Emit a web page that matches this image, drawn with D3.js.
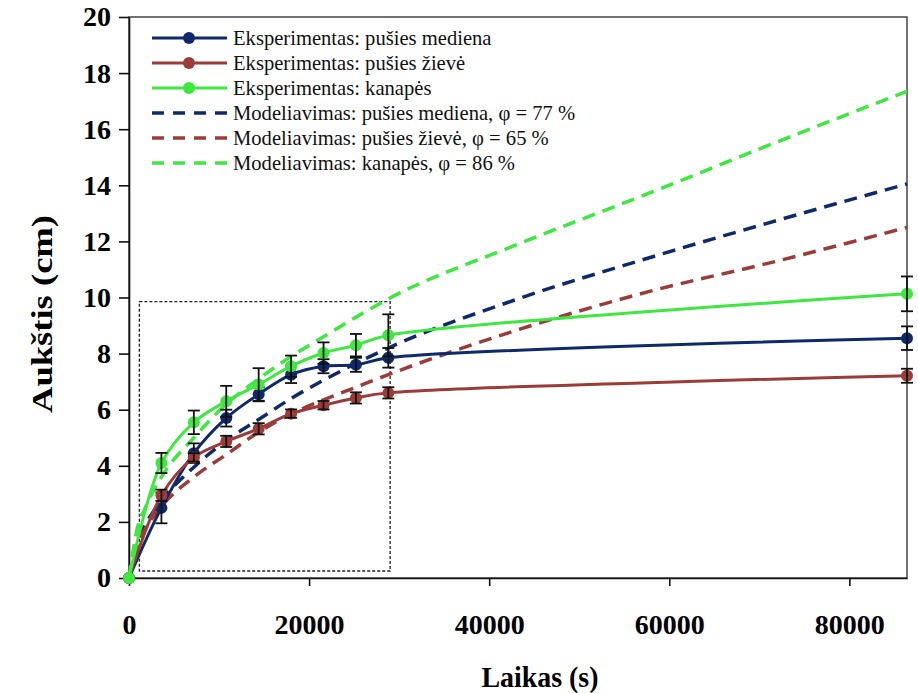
<!DOCTYPE HTML>
<html lang="lt">
  <head>
    <meta http-equiv="content-type" content="text/html; charset=utf-8"/>
    <title>Aukštis pagal laiką</title>
    <script type="text/javascript" src="https://d3js.org/d3.v7.min.js"></script>
    <style>
      body { margin: 0; background: #fff; }
      .tick text { font-family: "Liberation Serif", serif; font-weight: bold; font-size: 28px; fill: #000; }
      .legend text { font-family: "Liberation Serif", serif; font-size: 20.6px; fill: #111; }
      .title { font-family: "Liberation Serif", serif; font-weight: bold; font-size: 30px; fill: #000; }
    </style>
  </head>
  <body>
    <div id="chart"></div>
    <script>
      // ============================================= //
      // Data          //
      // ============================================= //
      var times = [0, 3600, 7200, 10800, 14400, 18000, 21600, 25200, 28800, 86400];

      var woodHeight = [0, 2.5, 4.45, 5.7, 6.55, 7.25, 7.55, 7.6, 7.85, 8.55];
      var woodErr    = [0, 0.55, 0.35, 0.3, 0.25, 0.3, 0.25, 0.25, 0.35, 0.42];
      var barkHeight = [0, 2.95, 4.3, 4.87, 5.32, 5.86, 6.16, 6.42, 6.6, 7.21];
      var barkErr    = [0, 0.2, 0.15, 0.2, 0.2, 0.15, 0.15, 0.2, 0.2, 0.25];
      var hempHeight = [0, 4.1, 5.55, 6.3, 6.9, 7.55, 8.02, 8.3, 8.65, 10.13];
      var hempErr    = [0, 0.36, 0.42, 0.55, 0.58, 0.38, 0.38, 0.4, 0.75, 0.62];

      var modelTimes = [0, 900, 1800, 3600, 7200, 10800, 14400, 18000, 21600, 25200, 28800, 43200, 57600, 72000, 86400];
      var woodModel  = [0, 1.3, 1.9, 2.75, 3.95, 4.9, 5.65, 6.4, 7.05, 7.65, 8.2, 9.95, 11.4, 12.75, 14.05];
      var barkModel  = [0, 1.2, 1.75, 2.55, 3.6, 4.4, 5.2, 5.85, 6.35, 6.8, 7.25, 8.85, 10.2, 11.3, 12.5];
      var hempModel  = [0, 1.75, 2.5, 3.6, 5.0, 6.2, 7.1, 7.9, 8.6, 9.3, 9.95, 11.9, 13.7, 15.55, 17.35];

      // zoomed region marked with the dotted box: [t0, t1], [h0, h1]
      var zoomBoxX = [1150, 29000];
      var zoomBoxY = [0.25, 9.85];

      var xTicks = [0, 20000, 40000, 60000, 80000];
      var yTicks = [0, 2, 4, 6, 8, 10, 12, 14, 16, 18, 20];

      var legendLabels = [
        "Eksperimentas: pušies mediena",
        "Eksperimentas: pušies žievė",
        "Eksperimentas: kanapės",
        "Modeliavimas: pušies mediena, φ = 77 %",
        "Modeliavimas: pušies žievė, φ = 65 %",
        "Modeliavimas: kanapės, φ = 86 %"
      ];

      var colors = { wood: "#0f2a6b", bark: "#9c3c39", hemp: "#3ee83e" };

      // ============================================= //
      // Setup                                         //
      // ============================================= //
      var margin = { top: 17, right: 11, bottom: 115, left: 129 },
        width = 918 - margin.left - margin.right,
        height = 693 - margin.top - margin.bottom;

      var x = d3.scaleLinear().domain([0, 86400]).range([0, width]);
      var y = d3.scaleLinear().domain([0, 20]).range([height, 0]);

      var svg = d3.select("#chart")
        .append("svg")
          .attr("width", 918)
          .attr("height", 693)
        .append("g")
          .attr("transform", "translate(" + margin.left + "," + margin.top + ")");

      function pairs(xs, ys, es) {
        return xs.map(function(t, i) { return { t: t, h: ys[i], e: es ? es[i] : 0 }; });
      }

      var series = [
        { key: "wood", data: pairs(times, woodHeight, woodErr), model: pairs(modelTimes, woodModel) },
        { key: "bark", data: pairs(times, barkHeight, barkErr), model: pairs(modelTimes, barkModel) },
        { key: "hemp", data: pairs(times, hempHeight, hempErr), model: pairs(modelTimes, hempModel) }
      ];

      // frame (top and right sides)
      svg.append("rect")
        .attr("width", width)
        .attr("height", height)
        .attr("fill", "none")
        .attr("stroke", "#444")
        .attr("stroke-width", 1.5);

      // ============================================= //
      // Axes                                          //
      // ============================================= //
      var gx = svg.append("g")
        .attr("transform", "translate(0," + height + ")")
        .call(d3.axisBottom(x).tickValues(xTicks).tickSize(8).tickSizeOuter(0).tickFormat(d3.format("d")));
      gx.selectAll("text").attr("y", 56).attr("dy", null);

      var gy = svg.append("g")
        .call(d3.axisLeft(y).tickValues(yTicks).tickSize(10).tickSizeOuter(0));
      gy.selectAll("text").attr("x", -18);

      svg.selectAll(".domain, .tick line").attr("stroke", "#111").attr("stroke-width", 1.6);

      // axis titles (positions given in page pixels, minus the margin)
      svg.append("text")
        .attr("class", "title")
        .attr("transform", "translate(" + (540 - margin.left) + "," + (687 - margin.top) + ")")
        .attr("text-anchor", "middle")
        .attr("textLength", 117)
        .attr("lengthAdjust", "spacingAndGlyphs")
        .text("Laikas (s)");

      svg.append("text")
        .attr("class", "title")
        .attr("transform", "translate(" + (52 - margin.left) + "," + (314 - margin.top) + ") rotate(-90)")
        .attr("text-anchor", "middle")
        .attr("textLength", 198)
        .attr("lengthAdjust", "spacingAndGlyphs")
        .text("Aukštis (cm)");

      // ============================================= //
      // Dotted zoom box                               //
      // ============================================= //
      svg.append("rect")
        .attr("x", x(zoomBoxX[0]))
        .attr("y", y(zoomBoxY[1]))
        .attr("width", x(zoomBoxX[1]) - x(zoomBoxX[0]))
        .attr("height", y(zoomBoxY[0]) - y(zoomBoxY[1]))
        .attr("fill", "none")
        .attr("stroke", "#222")
        .attr("stroke-width", 1.3)
        .attr("stroke-dasharray", "3,2");

      // ============================================= //
      // Model curves (dashed)                         //
      // ============================================= //
      var modelLine = d3.line()
        .curve(d3.curveMonotoneX)
        .x(function(d) { return x(d.t); })
        .y(function(d) { return y(d.h); });

      series.forEach(function(s) {
        svg.append("path")
          .datum(s.model)
          .attr("fill", "none")
          .attr("stroke", colors[s.key])
          .attr("stroke-width", 3.5)
          .attr("stroke-dasharray", "13,8")
          .attr("d", modelLine);
      });

      // ============================================= //
      // Experiment curves                             //
      // ============================================= //
      var dataLine = d3.line()
        .curve(d3.curveCatmullRom.alpha(0.5))
        .x(function(d) { return x(d.t); })
        .y(function(d) { return y(d.h); });

      series.forEach(function(s) {
        svg.append("path")
          .datum(s.data)
          .attr("fill", "none")
          .attr("stroke", colors[s.key])
          .attr("stroke-width", 3)
          .attr("d", dataLine);

        svg.append("g")
          .selectAll("circle")
          .data(s.data)
          .enter().append("circle")
            .attr("cx", function(d) { return x(d.t); })
            .attr("cy", function(d) { return y(d.h); })
            .attr("r", 6)
            .attr("fill", colors[s.key]);

        var bars = svg.append("g")
          .selectAll("g")
          .data(s.data.filter(function(d) { return d.e > 0; }))
          .enter().append("g")
            .attr("stroke", "#111")
            .attr("stroke-width", 1.8);
        bars.append("line")
          .attr("x1", function(d) { return x(d.t); })
          .attr("x2", function(d) { return x(d.t); })
          .attr("y1", function(d) { return y(d.h - d.e); })
          .attr("y2", function(d) { return y(d.h + d.e); });
        bars.append("line")
          .attr("x1", function(d) { return x(d.t) - 6; })
          .attr("x2", function(d) { return x(d.t) + 6; })
          .attr("y1", function(d) { return y(d.h + d.e); })
          .attr("y2", function(d) { return y(d.h + d.e); });
        bars.append("line")
          .attr("x1", function(d) { return x(d.t) - 6; })
          .attr("x2", function(d) { return x(d.t) + 6; })
          .attr("y1", function(d) { return y(d.h - d.e); })
          .attr("y2", function(d) { return y(d.h - d.e); });
      });

      // ============================================= //
      // Legend                                        //
      // ============================================= //
      var legendKeys = ["wood", "bark", "hemp", "wood", "bark", "hemp"];
      var legend = svg.append("g")
        .attr("class", "legend")
        .attr("transform", "translate(23,21)");

      legendLabels.forEach(function(label, i) {
        var row = legend.append("g").attr("transform", "translate(0," + (i * 25) + ")");
        row.append("line")
          .attr("x1", 0).attr("x2", 75)
          .attr("stroke", colors[legendKeys[i]])
          .attr("stroke-width", i < 3 ? 3 : 3.5)
          .attr("stroke-dasharray", i < 3 ? null : "12,9");
        if (i < 3) {
          row.append("circle").attr("cx", 37).attr("r", 6).attr("fill", colors[legendKeys[i]]);
        }
        row.append("text")
          .attr("x", 81)
          .attr("dy", "0.33em")
          .style("font-family", "'Liberation Serif', serif")
          .text(label);
      });
    </script>
  </body>
</html>
